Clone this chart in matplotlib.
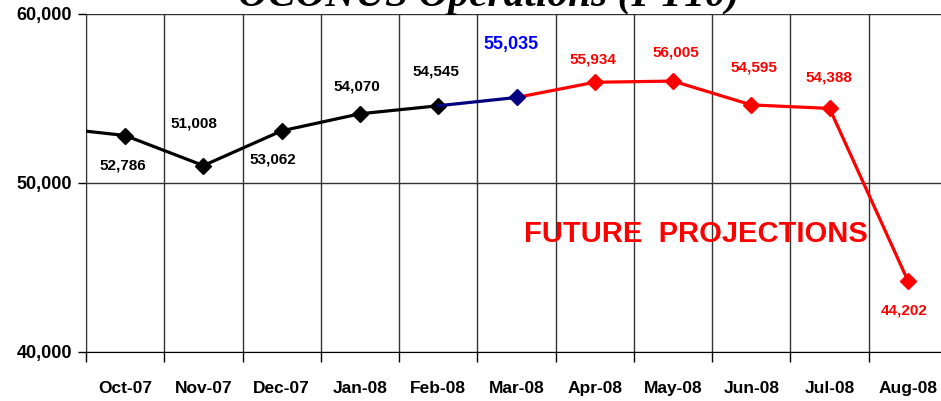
import matplotlib
matplotlib.use("Agg")
import matplotlib.pyplot as plt
import numpy as np

# monthly values (Sep-07 is off the left edge, only its line segment shows)
months = ["Oct-07", "Nov-07", "Dec-07", "Jan-08", "Feb-08", "Mar-08",
          "Apr-08", "May-08", "Jun-08", "Jul-08", "Aug-08"]
sep07 = 53300
actual = [52786, 51008, 53062, 54070, 54545]
current = 55035
projected = [55934, 56005, 54595, 54388, 44202]

values = actual + [current] + projected
# label offsets in pixels (dx, dy) relative to each point
offsets = [(-2, -30), (-9, 42), (-9, -29), (-3, 27), (-2, 34), (-6, 53),
           (-2, 23), (3, 29), (3, 37), (-1, 31), (-4, -30)]

plt.rcParams['font.family'] = ['Liberation Sans', 'DejaVu Sans']

fig = plt.figure(figsize=(9.41, 4.01), dpi=100)
ax = fig.add_axes([86 / 941, 0.1229, 861 / 941, 0.8434])

x = np.arange(len(months))
n_act = len(actual)

# black: Sep-07 .. Feb-08
ax.plot(np.r_[-1, x[:n_act]], [sep07] + actual, color='black', lw=2.3,
        marker='D', ms=8, markevery=list(range(1, n_act + 1)), zorder=3)
# navy: Feb-08 .. Mar-08
ax.plot(x[n_act - 1:n_act + 1], [actual[-1], current], color='#000080', lw=2.3,
        zorder=3)
ax.plot([x[n_act]], [current], color='#000080', marker='D', ms=8, zorder=4)
# red: Mar-08 .. Aug-08
ax.plot(x[n_act:], [current] + projected, color='red', lw=2.3, zorder=3)
ax.plot(x[n_act + 1:], projected, color='red', ls='none', marker='D', ms=8, zorder=4)

for i, v in enumerate(values):
    if i < n_act:
        col, fs = 'black', 11
    elif i == n_act:
        col, fs = 'blue', 13
    else:
        col, fs = 'red', 11
    ax.annotate(f"{v:,}", (x[i], v), xytext=offsets[i], textcoords='offset pixels',
                ha='center', va='center', color=col, fontsize=fs, fontweight='bold')

ax.text(7.29, 46980, "FUTURE  PROJECTIONS", color='red', fontsize=21,
        fontweight='bold', ha='center', va='center', zorder=2)

fig.text(0.519, 0.984, "OCONUS Operations (FY10)", ha='center', va='baseline',
         fontsize=29.8, fontweight='bold', style='italic',
         family=['Liberation Serif', 'DejaVu Serif'])

ax.set_xlim(-0.5, 10.5)
ax.set_ylim(40000, 60000)
ax.set_yticks([40000, 50000, 60000])
ax.set_yticklabels([f"{t:,}" for t in [40000, 50000, 60000]])
ax.set_xticks(x)
ax.set_xticklabels(months)
ax.set_xticks(np.arange(-0.5, 11, 1), minor=True)

ax.tick_params(axis='x', which='major', length=0, pad=21, labelsize=12.5)
ax.tick_params(axis='x', which='minor', length=7, direction='out', width=1)
ax.tick_params(axis='y', length=6, direction='out', width=1, pad=4, labelsize=13)
for lab in ax.get_xticklabels() + ax.get_yticklabels():
    lab.set_fontweight('bold')

ax.grid(which='minor', axis='x', color='#333333', lw=1)
ax.grid(which='major', axis='y', color='#333333', lw=1)
ax.set_axisbelow(True)
for s in ['top', 'right']:
    ax.spines[s].set_visible(False)
ax.spines['left'].set_color('#333333')
ax.spines['bottom'].set_color('black')

fig.savefig('out.png', dpi=100)
